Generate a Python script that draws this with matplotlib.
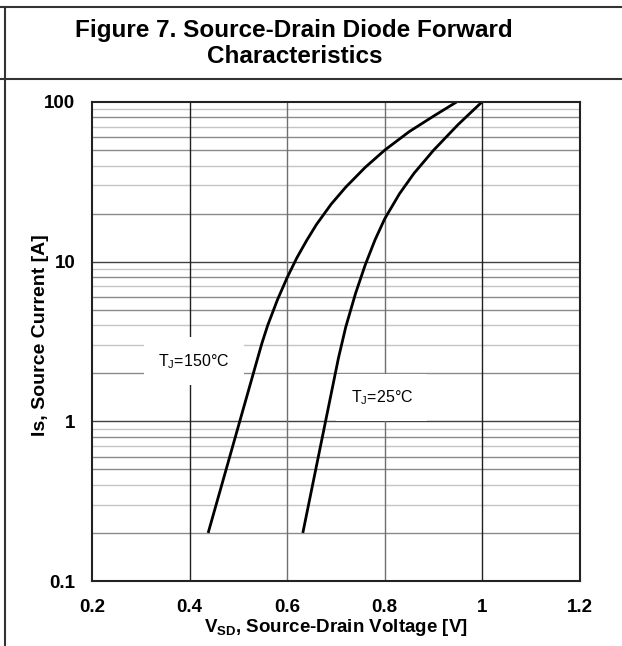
import matplotlib
matplotlib.use("Agg")
import matplotlib.pyplot as plt
from matplotlib.lines import Line2D

plt.rcParams['font.family'] = ['Liberation Sans', 'DejaVu Sans']
plt.rcParams['mathtext.fontset'] = 'custom'
plt.rcParams['mathtext.rm'] = 'Liberation Sans'
plt.rcParams['mathtext.bf'] = 'Liberation Sans:bold'

# Data
v_150 = [0.438, 0.465, 0.490, 0.515, 0.540, 0.548, 0.560, 0.580, 0.600, 0.620, 0.640,
         0.660, 0.690, 0.720, 0.760, 0.800, 0.850, 0.900, 0.947]
i_150 = [0.2, 0.391, 0.728, 1.355, 2.52, 3.07, 3.99, 5.77, 7.96, 10.6, 13.6,
         17.1, 22.9, 29.3, 39.0, 50.0, 65.2, 81.6, 100]
v_25 = [0.632, 0.655, 0.680, 0.705, 0.720, 0.740, 0.760, 0.780, 0.800, 0.830, 0.860,
        0.900, 0.950, 0.999]
i_25 = [0.2, 0.443, 1.05, 2.49, 3.90, 6.32, 9.57, 13.7, 18.6, 26.6, 35.8,
        49.9, 72.1, 100]
x_ticks = [0.2, 0.4, 0.6, 0.8, 1.0, 1.2]
x_tick_labels = ['0.2', '0.4', '0.6', '0.8', '1', '1.2']
y_ticks = [0.1, 1, 10, 100]
y_tick_labels = ['0.1', '1', '10', '100']

W, H = 622, 646
fig = plt.figure(figsize=(W/100, H/100), dpi=100)
ax = fig.add_axes([92/W, 1-581/H, (580-92)/W, (581-102)/H])

ax.set_xlim(0.2, 1.2)
ax.set_yscale('log')
ax.set_ylim(0.1, 100)

# grid lines
for dec in [0.1, 1, 10]:
    for m in range(2, 10):
        col = '#8a8a8a' if m in (2, 5, 6, 8) else '#c4c4c4'
        ax.axhline(dec*m, color=col, lw=1.0, zorder=1)
for y in [1, 10]:
    ax.axhline(y, color='#404040', lw=1.0, zorder=1)
for x in [0.4, 1.0]:
    ax.axvline(x, color='#202020', lw=1.0, zorder=1)
for x in [0.6, 0.8]:
    ax.axvline(x, color='#707070', lw=1.0, zorder=1)

ax.plot(v_150, i_150, color='black', lw=2.0, zorder=4, solid_capstyle='butt', solid_joinstyle='round')
ax.plot(v_25, i_25, color='black', lw=2.0, zorder=4, solid_capstyle='butt', solid_joinstyle='round')

ax.text(0.409, 2.38, r'T$_\mathregular{J}$=150°C', fontsize=11.5, ha='center', va='center',
        zorder=3, bbox=dict(boxstyle='square', facecolor='white', edgecolor='none', pad=0.9))
ax.text(0.794, 1.41, r'T$_\mathregular{J}$=25°C', fontsize=11.5, ha='center', va='center',
        zorder=3, bbox=dict(boxstyle='square', facecolor='white', edgecolor='none', pad=0.9))

ax.set_xticks(x_ticks)
ax.set_xticklabels(x_tick_labels, fontsize=13.5, fontweight='bold')
ax.set_yticks(y_ticks)
ax.set_yticklabels(y_tick_labels, fontsize=13.5, fontweight='bold')
ax.minorticks_off()
ax.tick_params(axis='x', length=0, pad=13)
ax.tick_params(axis='y', length=0, pad=12)

for s in ax.spines.values():
    s.set_linewidth(1.5)
    s.set_color('#222222')
    s.set_zorder(5)

ax.set_xlabel(r'V$_\mathbf{SD}$, Source-Drain Voltage [V]', fontsize=13.5, fontweight='bold')
ax.xaxis.set_label_coords(0.5, -(627-581)/479)
ax.xaxis.label.set_va('center')
ax.set_ylabel('Is, Source Current [A]', fontsize=14, fontweight='bold')
ax.yaxis.set_label_coords((41-92)/488, (581-335.5)/479)
ax.yaxis.label.set_va('center')

fig.text(294/W, 1-37/H, 'Figure 7. Source-Drain Diode Forward', fontsize=17.5, fontweight='bold',
         ha='center', va='baseline')
fig.text(295/W, 1-63/H, 'Characteristics', fontsize=17.5, fontweight='bold', ha='center', va='baseline')

fig.add_artist(Line2D([0, 1], [1-7/H, 1-7/H], color='#333333', lw=1.5, transform=fig.transFigure))
fig.add_artist(Line2D([0, 1], [1-79/H, 1-79/H], color='#333333', lw=1.5, transform=fig.transFigure))
fig.add_artist(Line2D([5/W, 5/W], [0, 1-7/H], color='#333333', lw=1.5, transform=fig.transFigure))

fig.savefig('out.png', dpi=100)
